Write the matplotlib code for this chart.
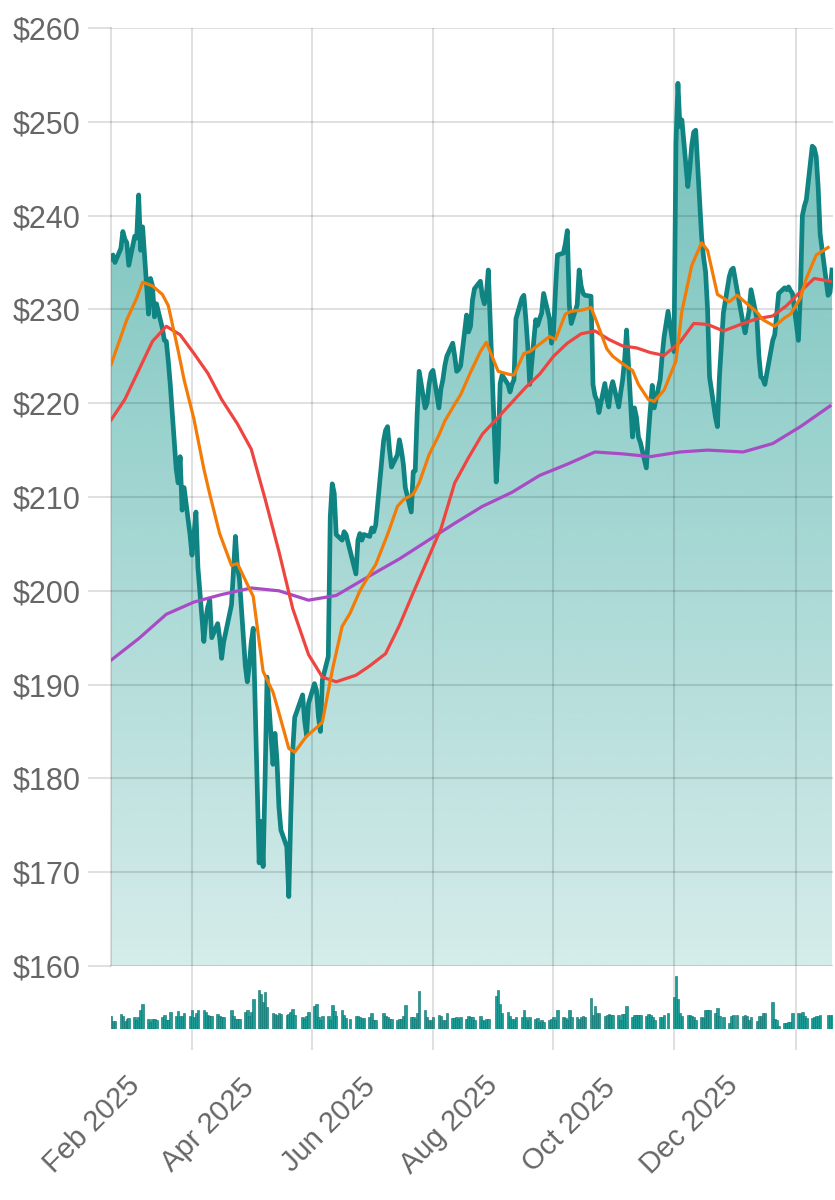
import numpy as np
import pandas as pd
import matplotlib
matplotlib.use('Agg')
from matplotlib import pyplot as plt
from matplotlib import dates as mdates
from matplotlib import transforms
from matplotlib.patches import PathPatch

# trading sessions, one year
holidays = ['2025-04-18', '2025-05-26', '2025-06-19', '2025-07-04', '2025-09-01',
            '2025-11-27', '2025-12-25', '2026-01-01', '2026-01-19', '2026-02-16']
dates = pd.bdate_range('2025-02-19', '2026-02-19', freq='C', holidays=holidays)

close = [
    235.4, 235.8, 235.0,
    236.5, 238.3, 237.5, 237.1, 234.7,
    237.8, 237.6, 242.2, 236.3, 238.8,
    229.5, 233.3, 232.5, 229.2, 230.6,
    228.0, 226.7, 226.6, 224.5, 222.0,
    213.0, 211.5, 214.3, 208.6, 211.0,
    206.0, 203.8, 206.0, 208.4, 202.5,
    194.6, 197.0, 198.3, 199.0, 195.0,
    196.5, 195.0, 192.8, 194.5,
    198.5, 202.2, 205.8, 202.5, 201.3,
    192.0, 190.3, 192.0, 194.5, 196.0,
    171.0, 175.4, 170.6, 180.0, 190.8,
    181.5, 184.8, 182.0, 177.0, 174.5,
    172.7, 167.4, 176.0, 183.0, 186.5,
    188.9, 186.2, 184.6, 188.0,
    190.1, 189.4, 186.6, 185.0, 190.5,
    193.0, 207.9, 211.4, 210.4, 206.0,
    205.4, 206.3, 206.0, 204.3,
    201.8, 205.4, 206.1, 205.4, 206.0,
    205.8, 206.7, 206.3, 207.0,
    216.0, 217.1, 217.5, 215.0, 213.2,
    214.5, 216.1, 215.0, 213.5, 211.0,
    208.4, 212.7, 212.8, 218.9, 223.4,
    219.5, 220.0, 222.0, 223.2, 223.5,
    219.5, 221.5, 222.5, 224.0, 225.0,
    226.4, 225.0, 223.4, 223.6, 224.0,
    229.4, 227.6, 228.2, 231.0, 232.2,
    233.0, 231.4, 230.6, 231.5, 234.2,
    211.6, 215.0, 222.1, 223.0,
    222.0, 221.2, 222.0, 222.5, 229.0,
    231.2, 231.5, 229.0, 226.0, 222.0,
    228.9, 228.3, 229.0, 229.6, 231.7,
    229.0, 226.4, 227.5, 232.0, 235.8,
    236.0, 237.0, 238.4, 230.5, 228.5,
    230.5, 234.2, 232.5, 231.7, 231.5,
    231.4, 222.0, 220.8, 220.3, 219.0,
    222.1, 220.5, 219.6, 221.5, 222.3,
    219.6, 221.1, 222.5, 224.6, 227.8,
    216.4, 219.5, 218.5, 216.4, 215.8,
    213.1, 216.5, 219.3, 221.9, 219.5,
    222.5, 225.0, 227.1, 229.8,
    225.5, 247.7, 254.1, 249.5, 250.2,
    243.1, 245.0, 247.5, 248.9, 249.1,
    237.7, 235.5, 234.0, 230.0, 222.8,
    218.5, 217.5, 222.8, 229.6,
    233.5, 234.2, 234.4, 232.0,
    228.5, 227.5, 228.7, 229.8, 232.1,
    229.0, 225.0, 222.8, 222.6, 222.0,
    226.7, 227.3, 229.5, 231.7,
    232.3, 232.1, 232.4, 232.0, 231.7,
    226.7, 231.7, 240.0, 241.0, 241.7,
    247.4, 247.2, 246.3, 243.0, 238.0,
    231.5, 231.8, 234.2,
]

# volume in millions of shares
volume = [
    46, 30, 30, 55, 46, 30, 36, 39, 42, 33,
    43, 68, 89, 38, 26, 36, 36, 31, 42, 49,
    33, 33, 62, 48, 65, 46, 46, 58, 48, 68,
    43, 58, 67, 70, 60, 49, 48, 46, 54, 46,
    44, 44, 68, 47, 36, 36, 36, 60, 70, 46,
    60, 110, 141, 126, 99, 134, 78, 58, 55, 52,
    58, 54, 52, 55, 62, 73, 49, 42, 36, 48,
    62, 85, 89, 42, 31, 48, 46, 33, 86, 64,
    46, 70, 52, 39, 36, 48, 46, 43, 39,
    39, 42, 58, 33, 33, 58, 46, 43,
    36, 38, 33, 36, 36, 48, 86, 43, 43, 38,
    58, 136, 68, 43, 33, 33, 43, 52, 46, 33,
    33, 58, 39, 39, 43, 38, 43, 38, 46, 43,
    43, 33, 48, 33, 30, 37, 37,
    120, 141, 89, 58, 62, 46, 36, 36, 42, 42,
    70, 43, 33, 42, 36, 39, 27, 31, 27,
    33, 36, 43, 33, 68, 42, 39, 33, 70,
    43, 43, 36, 43, 48, 43, 113, 52, 83, 58,
    58, 48, 52, 55, 52, 49, 49, 33, 54,
    54, 83, 43, 52, 52, 49, 52, 46, 54, 52,
    43, 33, 43, 43, 52, 58, 117, 191, 110, 58,
    46, 49, 52, 46, 43, 33, 43, 39, 68,
    68, 68, 58, 76, 46, 43, 21, 46, 49,
    52, 46, 52, 48, 33, 42, 30, 48,
    48, 58, 58, 97, 36, 33, 12, 21, 23, 25,
    27, 58, 58, 55, 60, 46, 39, 39, 43,
    46, 48, 49, 52, 49, 52,
]

# moving averages, read every 3rd / 5th / 10th session
ma_fast = [
    224.1, 227.1, 228.9, 231.2, 232.9, 232.5, 231.6, 230.4, 225.6, 222.5,
    218.3, 213.0, 210.3, 206.1, 202.7, 202.9, 200.7, 199.4, 191.4, 189.2,
    187.0, 183.2, 182.8, 184.5, 185.4, 186.0, 191.5, 196.2, 197.6, 200.0,
    201.8, 202.8, 206.0, 209.0, 209.7, 210.3, 211.5, 214.5, 216.6, 218.1,
    219.9, 220.9, 223.3, 225.5, 226.5, 223.4, 223.1, 223.0, 225.3, 225.5,
    226.3, 227.1, 226.8, 229.5, 229.8, 229.9, 230.2, 228.6, 225.8, 225.0,
    224.2, 223.5, 222.0, 220.4, 220.2, 221.4, 224.5, 229.8, 234.7, 237.1,
    236.3, 231.6, 230.8, 231.5, 230.6, 229.7, 228.9, 228.2, 229.1, 229.5,
    231.2, 233.3, 235.8, 236.6,
]
ma_mid = [
    218.2, 220.4, 223.5, 226.6, 228.2, 227.3, 225.3, 223.2, 220.4, 217.8,
    215.1, 209.8, 204.2, 198.1, 193.2, 190.8, 190.3, 191.0, 192.0, 193.3,
    196.3, 199.8, 203.2, 206.6, 211.5, 214.2, 216.7, 218.5, 220.1, 221.7,
    223.1, 225.0, 226.4, 227.4, 227.7, 226.8, 226.1, 225.9, 225.4, 225.1,
    226.5, 228.5, 228.4, 227.7, 228.5, 229.0, 229.3, 230.4, 231.9, 233.3,
    233.0,
]
ma_slow = [
    192.6, 194.9, 197.5, 198.8, 199.6, 200.3, 200.0, 199.0, 199.5, 201.6,
    203.4, 205.3, 207.2, 209.0, 210.5, 212.3, 213.5, 214.8, 214.6, 214.3,
    214.8, 215.0, 214.8, 215.7, 217.5, 219.7,
]

month_ticks = ['2025-02-01', '2025-04-01', '2025-06-01', '2025-08-01',
               '2025-10-01', '2025-12-01', '2026-02-01']
month_labels = ['Feb 2025', 'Apr 2025', 'Jun 2025', 'Aug 2025',
                'Oct 2025', 'Dec 2025', '']

plt.rcParams['font.family'] = ['Liberation Sans', 'DejaVu Sans']

line_teal = '#0f8482'
fill_rgb = (20 / 255, 150 / 255, 140 / 255)
grid_col = (0, 0, 0, 0.12)
text_col = '#666666'

x = mdates.date2num(dates)
x_end = x[-1] + 0.5
tick_x = mdates.date2num(pd.to_datetime(month_ticks))
inside = [t for t in tick_x if x[0] < t < x_end]

fig = plt.figure(figsize=(8.35, 12), dpi=100)
ax = fig.add_axes([111 / 835, 1 - 966 / 1200, 722 / 835, 938 / 1200])
ax_v = fig.add_axes([111 / 835, 1 - 1029 / 1200, 722 / 835, 63 / 1200])

# gradient area under the price line
poly = ax.fill_between(x, close, 160, facecolor='none', edgecolor='none')
clip = PathPatch(poly.get_paths()[0], transform=ax.transData,
                 facecolor='none', edgecolor='none')
ax.add_patch(clip)
grad = np.zeros((256, 1, 4))
grad[:, 0, 0] = fill_rgb[0]
grad[:, 0, 1] = fill_rgb[1]
grad[:, 0, 2] = fill_rgb[2]
grad[:, 0, 3] = np.linspace(0.18, 0.62, 256)
im = ax.imshow(grad, extent=[x[0], x_end, 160, 260], origin='lower',
               aspect='auto', zorder=0.8, interpolation='bilinear')
im.set_clip_path(clip)

ax.plot(x, close, color=line_teal, lw=3.4, zorder=3, solid_joinstyle='round')
ax.plot(x[::10], ma_slow, color='#a94bc4', lw=2.3, zorder=4)
ax.plot(x[::5], ma_mid, color='#ee4540', lw=2.3, zorder=4)
ax.plot(x[::3], ma_fast, color='#f27c07', lw=2.3, zorder=5)

ax.set_xlim(x[0], x_end)
ax.set_ylim(160, 260)
ax.set_yticks(range(160, 261, 10))
ax.yaxis.set_major_formatter(lambda v, p: '$' + str(int(v)))
ax.set_xticks(inside)
ax.set_xticklabels([])
ax.tick_params(axis='x', length=0)
ax.tick_params(axis='y', length=16.6, width=1.5, color=grid_col, pad=5.5,
               labelsize=22, labelcolor=text_col)
ax.set_axisbelow('line')
ax.grid(True, color='black', alpha=0.12, lw=1.5)
for s in ['top', 'right', 'bottom']:
    ax.spines[s].set_visible(False)
ax.spines['left'].set_color(grid_col)
ax.spines['left'].set_linewidth(1.5)

# volume bars
ax_v.bar(x, volume, width=1.3, color='#1f9c96', edgecolor='#0d6f6b', linewidth=0.4)
ax_v.set_xlim(x[0], x_end)
ax_v.set_ylim(0, 228)
ax_v.set_yticks([])
ax_v.set_xticks(inside)
ax_v.set_xticklabels([])
ax_v.tick_params(axis='x', length=15, width=1.5, color=grid_col)
ax_v.set_axisbelow(True)
ax_v.grid(True, axis='x', color='black', alpha=0.12, lw=1.5)
for s in ax_v.spines.values():
    s.set_visible(False)

trans = transforms.blended_transform_factory(ax_v.transData, fig.transFigure)
trans = trans + transforms.ScaledTranslation(16 / 100, 0, fig.dpi_scale_trans)
for t, lab in zip(tick_x, month_labels):
    ax_v.text(t, 1 - 1125 / 1200, lab, transform=trans, rotation=45,
              rotation_mode='anchor', ha='center', va='center',
              fontsize=21, color=text_col)

fig.savefig('out.png', dpi=100)
print('Plot out.png generated')
